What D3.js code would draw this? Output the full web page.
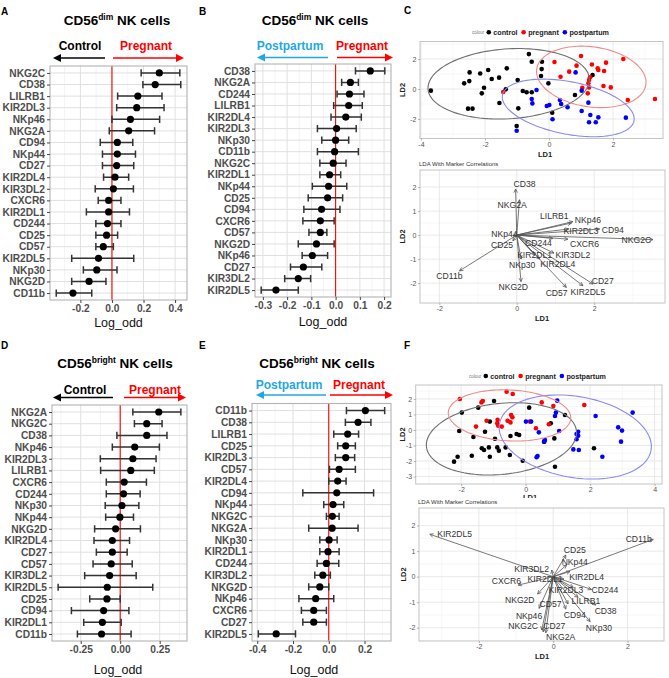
<!DOCTYPE html>
<html><head><meta charset="utf-8">
<script src="https://cdn.jsdelivr.net/npm/d3@7"></script>
<style>body{margin:0;background:#fff}svg{display:block}text{font-family:'Liberation Sans',Arial,sans-serif}</style>
</head><body><svg id="c" width="669" height="678"></svg>
<script>
// ---------------- DATA ----------------
// Panel A: CD56dim, Control vs Pregnant
const catsA = ["NKG2C","CD38","LILRB1","KIR2DL3","NKp46","NKG2A","CD94","NKp44","CD27","KIR2DL4","KIR3DL2","CXCR6","KIR2DL1","CD244","CD25","CD57","KIR2DL5","NKp30","NKG2D","CD11b"];
const ptA = [0.300,0.274,0.164,0.157,0.117,0.106,0.034,0.034,0.030,0.019,0.009,-0.021,-0.021,-0.028,-0.034,-0.055,-0.085,-0.096,-0.145,-0.247];
const loA = [0.185,0.196,0.036,0.030,0.000,-0.017,-0.074,-0.060,-0.060,-0.053,-0.106,-0.087,-0.162,-0.102,-0.102,-0.102,-0.255,-0.181,-0.255,-0.353];
const hiA = [0.430,0.436,0.317,0.330,0.302,0.270,0.132,0.149,0.138,0.106,0.136,0.057,0.111,0.057,0.036,0.009,0.138,0.032,-0.038,-0.128];
const ticksA = [-0.2,0,0.2,0.4];

// Panel B: CD56dim, Postpartum vs Pregnant
const catsB = ["CD38","NKG2A","CD244","LILRB1","KIR2DL4","KIR2DL3","NKp30","CD11b","NKG2C","KIR2DL1","NKp44","CD25","CD94","CXCR6","CD57","NKG2D","NKp46","CD27","KIR3DL2","KIR2DL5"];
const ptB = [0.143,0.061,0.057,0.054,0.042,0.004,0.000,-0.004,-0.010,-0.025,-0.029,-0.033,-0.058,-0.063,-0.063,-0.079,-0.096,-0.133,-0.154,-0.246];
const loB = [0.082,0.025,0.006,-0.008,-0.019,-0.075,-0.057,-0.075,-0.065,-0.065,-0.096,-0.113,-0.131,-0.135,-0.110,-0.154,-0.138,-0.186,-0.210,-0.307];
const hiB = [0.203,0.094,0.117,0.110,0.106,0.085,0.054,0.094,0.043,0.021,0.046,0.029,0.018,-0.006,-0.036,-0.006,-0.033,-0.057,-0.103,-0.154];
const ticksB = [-0.3,-0.2,-0.1,0,0.1,0.2];

// Panel D: CD56bright, Control vs Pregnant
const catsD = ["NKG2A","NKG2C","CD38","NKp46","KIR2DL3","LILRB1","CXCR6","CD244","NKp30","NKp44","NKG2D","KIR2DL4","CD27","CD57","KIR3DL2","KIR2DL5","CD25","CD94","KIR2DL1","CD11b"];
const ptD = [0.244,0.168,0.168,0.092,0.080,0.067,0.025,0.021,0.011,-0.002,-0.029,-0.050,-0.050,-0.057,-0.067,-0.082,-0.084,-0.105,-0.113,-0.118];
const loD = [0.080,0.090,-0.021,-0.050,-0.126,-0.124,-0.088,-0.088,-0.095,-0.092,-0.162,-0.166,-0.151,-0.172,-0.225,-0.393,-0.193,-0.309,-0.231,-0.271];
const hiD = [0.384,0.265,0.296,0.248,0.227,0.216,0.166,0.126,0.118,0.084,0.128,0.059,0.044,0.076,0.101,0.206,0.000,0.055,0.006,0.069];
const ticksD = [-0.25,0,0.25];

// Panel E: CD56bright, Postpartum vs Pregnant
const catsE = ["CD11b","CD38","LILRB1","CD25","KIR2DL3","CD57","KIR2DL4","CD94","NKp44","NKG2C","NKG2A","NKp30","KIR2DL1","CD244","KIR3DL2","NKG2D","NKp46","CXCR6","CD27","KIR2DL5"];
const ptE = [0.205,0.164,0.106,0.095,0.095,0.058,0.050,0.045,0.024,0.020,0.019,0.002,-0.004,-0.013,-0.033,-0.050,-0.073,-0.084,-0.084,-0.294];
const loE = [0.099,0.093,0.028,0.050,0.037,0.004,0.000,-0.145,-0.028,-0.013,-0.112,-0.050,-0.050,-0.065,-0.078,-0.112,-0.167,-0.153,-0.145,-0.394];
const hiE = [0.313,0.236,0.167,0.149,0.145,0.149,0.097,0.251,0.084,0.058,0.164,0.047,0.058,0.056,0.009,0.000,0.028,-0.013,-0.013,-0.186];
const ticksE = [-0.4,-0.2,0,0.2];

// Panel C (top): LDA scores [LD1, LD2]
const ldaC_control = [[-0.63,2.33],[-0.54,1.82],[-0.22,1.82],[-0.23,1.33],[-0.25,0.87],[-2.48,1.11],[-2.15,1.04],[-1.90,1.27],[-1.32,1.38],[-1.79,0.67],[-1.56,0.76],[-2.49,0.53],[-2.65,0.38],[-0.98,0.60],[-0.02,0.38],[-2.03,0.09],[-2.10,-0.29],[-1.35,-0.02],[-0.82,-0.13],[-0.70,-0.22],[-0.54,-0.22],[-1.55,-0.93],[-0.96,-1.29],[-2.53,-1.31],[-2.39,-1.31],[0.81,-0.40],[0.10,-1.58],[1.36,0.93],[-1.01,-2.47],[-3.69,-0.11]];
const ldaC_pregnant = [[0.17,1.80],[1.00,2.20],[1.34,1.64],[1.78,1.76],[2.32,2.00],[0.86,1.56],[0.63,1.16],[0.36,0.82],[1.52,1.38],[1.54,1.27],[1.72,1.20],[1.28,0.78],[1.25,0.60],[1.23,0.38],[1.25,0.11],[1.04,0.09],[1.21,-0.29],[1.70,0.20],[1.93,0.11],[2.46,-0.73],[3.31,-0.67],[-1.43,-0.20]];
const ldaC_postpartum = [[0.83,1.11],[1.02,-0.11],[-0.39,-0.07],[-0.54,-0.67],[-0.52,-0.96],[-0.07,-1.13],[0.01,-1.07],[0.34,-0.73],[0.38,-1.00],[0.58,-1.22],[1.23,-0.91],[1.02,-1.47],[1.29,-1.73],[1.54,-1.89],[1.46,-2.22],[1.25,-2.22],[2.40,-1.91],[0.11,-2.02],[-1.01,-2.78]];
// ellipses: [centre LD1, centre LD2, half-extent LD1, half-extent LD2, phase]
const ellC_control = [-1.26,0.35,2.52,2.35,1.45];
const ellC_pregnant = [1.32,0.81,1.71,2.05,1.75];
const ellC_postpartum = [0.60,-1.26,2.06,1.92,1.96];

// Panel C (bottom): marker correlations
const bipC_markers = ["CD38","NKG2A","LILRB1","NKp46","KIR2DL3","CD94","NKG2C","CXCR6","CD244","KIR3DL2","KIR2DL1","KIR2DL4","NKp30","NKG2D","CD57","KIR2DL5","CD27","CD11b","CD25","NKp44"];
const bipC_tipX = [-0.03,0.07,1.41,1.45,1.34,2.14,3.52,1.32,0.93,0.96,0.46,0.59,0.11,0.11,1.28,1.71,1.97,-1.48,-0.10,-0.10];
const bipC_tipY = [1.92,1.47,0.50,0.56,0.25,0.25,-0.19,-0.17,-0.14,-0.75,-0.83,-1.00,-1.00,-1.94,-2.18,-2.11,-2.04,-1.49,-0.24,-0.03];
const bipC_labX = [0.20,-0.12,0.97,1.84,1.66,2.48,3.09,1.75,0.56,1.45,0.46,1.06,0.14,-0.09,1.03,1.84,2.22,-1.74,-0.38,-0.32];
const bipC_labY = [2.13,1.25,0.78,0.63,0.18,0.21,-0.19,-0.39,-0.35,-0.82,-0.82,-1.21,-1.24,-2.18,-2.42,-2.36,-1.93,-1.72,-0.40,0.04];

// Panel F (top): LDA scores
const ldaF_control = [[-0.98,1.87],[-1.47,1.44],[-1.98,1.12],[0.11,1.44],[1.22,0.97],[-1.11,0.54],[0.78,0.43],[-2.06,-0.06],[-1.62,-0.45],[-1.26,-0.11],[-0.47,-0.39],[-0.28,-0.26],[-0.20,-0.32],[-0.95,-0.56],[-1.36,-1.18],[-1.29,-1.29],[-1.14,-1.12],[-0.88,-1.12],[-0.83,-1.33],[-1.11,-1.72],[-1.67,-1.66],[-2.11,-1.72],[-2.22,-2.04],[-0.49,-1.61],[-0.62,-1.12],[-0.09,-1.98],[0.57,-0.75],[0.89,-0.54],[0.91,-2.37],[2.12,-1.18]];
const ldaF_pregnant = [[-0.59,2.47],[-0.40,2.32],[-2.04,2.00],[-1.33,1.87],[-1.37,1.78],[1.82,1.61],[0.50,1.78],[0.86,1.55],[-0.45,0.97],[-0.41,0.82],[-0.56,0.60],[-0.47,0.49],[-1.21,0.60],[-0.87,0.65],[-0.88,0.43],[-0.85,0.28],[-0.74,0.22],[-1.54,0.22],[0.32,0.11],[0.72,0.37],[0.13,0.54]];
const ldaF_postpartum = [[0.98,1.89],[0.94,1.12],[0.91,0.90],[0.01,0.54],[0.17,0.54],[0.41,-0.15],[1.04,-0.06],[1.63,-0.11],[1.58,-0.26],[1.63,-0.37],[1.58,-0.60],[1.65,-1.29],[1.48,-1.25],[0.60,-0.65],[0.58,-0.75],[0.37,-1.68],[0.34,-1.76],[2.38,-1.72],[2.87,0.17],[2.99,-0.04],[2.96,-0.75],[2.17,0.90],[3.32,1.12]];
const ellF_control = [-0.75,-0.57,2.33,2.33,1.40];
const ellF_pregnant = [-0.50,0.94,1.90,1.65,1.67];
const ellF_postpartum = [1.54,-0.45,2.36,2.71,1.80];

// Panel F (bottom): marker correlations
const bipF_markers = ["KIR2DL5","CD11b","CD25","NKp44","KIR3DL2","KIR2DL4","CXCR6","KIR2DL1","KIR2DL3","CD244","LILRB1","CD38","NKp30","CD94","CD57","NKG2D","NKp46","NKG2C","CD27","NKG2A"];
const bipF_tipX = [-3.32,2.69,0.34,0.36,-0.04,0.45,-0.94,0.29,0.54,1.03,0.67,1.15,0.99,0.34,0.40,-0.42,-0.38,-0.31,-0.27,-0.20];
const bipF_tipY = [1.66,1.46,0.85,0.46,0.26,0.20,-0.33,-0.10,-0.42,-0.50,-0.81,-1.11,-1.76,-1.27,-1.07,-0.68,-1.24,-2.09,-2.16,-2.20];
const bipF_labX = [-2.65,2.30,0.58,0.58,-0.58,0.90,-1.26,-0.22,0.34,1.39,0.88,1.41,1.23,0.58,-0.07,-0.90,-0.65,-0.81,0.03,0.20];
const bipF_labY = [1.69,1.46,1.05,0.59,0.29,0.00,-0.16,-0.10,-0.52,-0.52,-0.94,-1.35,-2.00,-1.50,-1.08,-0.92,-1.54,-1.93,-1.93,-2.35];

const groupNames = ["control","pregnant","postpartum"];

// ---------------- DRAWING ----------------
const svg = d3.select('#c');
const RED = '#ff0000', LBLUE = '#1fa8e6';
const groupColors = ['#000000','#ff0000','#0000ff'];
const ellColors = ['#6e6e6e','#f08a8a','#8a8af0'];

const fmtN = n => d => (d < 0 ? '-' : '') + Math.abs(d).toFixed(n);

function hArrow(g, x1, x2, y, color) {
  const dir = Math.sign(x2 - x1), hl = 8, hw = 4;
  g.append('line').attr('x1', x1).attr('x2', x2 - dir * hl).attr('y1', y).attr('y2', y)
    .attr('stroke', color).attr('stroke-width', 1.6);
  g.append('path').attr('d', `M${x2},${y}L${x2 - dir * hl},${y - hw}L${x2 - dir * hl},${y + hw}Z`).attr('fill', color);
}

function forest(cfg) {
  const g = svg.append('g');
  const mn = d3.min(cfg.lo), mx = d3.max(cfg.hi), pad = (mx - mn) * 0.05;
  const x = d3.scaleLinear().domain([mn - pad, mx + pad]).range([cfg.l, cfg.r]);
  const y = d3.scalePoint().domain(cfg.cats).range([cfg.t, cfg.b]).padding(0.6);
  const [d0, d1] = x.domain();
  const step = cfg.ticks[1] - cfg.ticks[0];
  const minors = [cfg.ticks[0] - step / 2, ...cfg.ticks.map(t => t + step / 2)].filter(v => v > d0 && v < d1);
  g.append('rect').attr('x', cfg.l).attr('y', cfg.t).attr('width', cfg.r - cfg.l).attr('height', cfg.b - cfg.t).attr('fill', '#fff');
  g.selectAll('.mn').data(minors).join('line').attr('x1', d => x(d)).attr('x2', d => x(d))
    .attr('y1', cfg.t).attr('y2', cfg.b).attr('stroke', '#ececec').attr('stroke-width', 0.6);
  g.selectAll('.mj').data(cfg.ticks).join('line').attr('x1', d => x(d)).attr('x2', d => x(d))
    .attr('y1', cfg.t).attr('y2', cfg.b).attr('stroke', '#e0e0e0').attr('stroke-width', 1);
  g.selectAll('.hz').data(cfg.cats).join('line').attr('x1', cfg.l).attr('x2', cfg.r)
    .attr('y1', d => y(d)).attr('y2', d => y(d)).attr('stroke', '#e0e0e0').attr('stroke-width', 1);
  g.append('line').attr('x1', x(0)).attr('x2', x(0)).attr('y1', cfg.t).attr('y2', cfg.b)
    .attr('stroke', RED).attr('stroke-width', 1.1);
  const idx = d3.range(cfg.cats.length);
  g.selectAll('.eb').data(idx).join('path').attr('d', i => {
    const yy = y(cfg.cats[i]), a = x(cfg.lo[i]), b = x(cfg.hi[i]);
    return `M${a},${yy}H${b}M${a},${yy - 3.6}V${yy + 3.6}M${b},${yy - 3.6}V${yy + 3.6}`;
  }).attr('stroke', '#333').attr('stroke-width', 1.5).attr('fill', 'none');
  g.selectAll('.pt').data(idx).join('circle').attr('cx', i => x(cfg.pt[i])).attr('cy', i => y(cfg.cats[i]))
    .attr('r', 3.6).attr('fill', '#000');
  g.append('rect').attr('x', cfg.l).attr('y', cfg.t).attr('width', cfg.r - cfg.l).attr('height', cfg.b - cfg.t)
    .attr('fill', 'none').attr('stroke', '#b3b3b3').attr('stroke-width', 1.1);
  const ax = g.append('g').attr('transform', `translate(0,${cfg.b})`)
    .call(d3.axisBottom(x).tickValues(cfg.ticks).tickFormat(cfg.fmt).tickSize(3).tickPadding(2));
  const ay = g.append('g').attr('transform', `translate(${cfg.l},0)`)
    .call(d3.axisLeft(y).tickSize(3).tickPadding(2));
  [ax, ay].forEach(a => {
    a.select('.domain').remove();
    a.selectAll('line').attr('stroke', '#444');
    a.selectAll('text').attr('font-family', "'Liberation Sans',Arial,sans-serif").attr('font-weight', 'bold')
      .attr('font-size', 10.2).attr('fill', '#4d4d4d');
  });
  // title
  const t = g.append('text').attr('x', cfg.titleX).attr('y', cfg.titleY).attr('text-anchor', 'middle')
    .attr('font-weight', 'bold').attr('font-size', 13.5).attr('fill', '#000');
  t.append('tspan').text('CD56');
  t.append('tspan').text(cfg.sup).attr('font-size', 8.5).attr('dy', -5);
  t.append('tspan').text(' NK cells').attr('dy', 5);
  // direction arrows
  hArrow(g, cfg.la[1], cfg.la[0], cfg.ay, cfg.lcol);
  hArrow(g, cfg.ra[0], cfg.ra[1], cfg.ay, RED);
  g.append('text').attr('x', cfg.ltx).attr('y', cfg.ty).attr('text-anchor', 'middle')
    .attr('font-weight', 'bold').attr('font-size', 12).attr('fill', cfg.lcol).text(cfg.ltext);
  g.append('text').attr('x', cfg.rtx).attr('y', cfg.ty).attr('text-anchor', 'middle')
    .attr('font-weight', 'bold').attr('font-size', 12).attr('fill', RED).text('Pregnant');
  g.append('text').attr('x', cfg.xlx).attr('y', cfg.xly).attr('text-anchor', 'middle')
    .attr('font-size', 12.5).attr('fill', '#111').text('Log_odd');
  g.append('text').attr('x', cfg.letX).attr('y', cfg.letY).attr('font-weight', 'bold').attr('font-size', 10).text(cfg.letter);
}

function gridPanel(g, x, y, cfg) {
  g.append('rect').attr('x', cfg.l).attr('y', cfg.t).attr('width', cfg.r - cfg.l).attr('height', cfg.b - cfg.t).attr('fill', '#fff');
  g.selectAll('.xm').data(cfg.xminor).join('line').attr('x1', d => x(d)).attr('x2', d => x(d)).attr('y1', cfg.t).attr('y2', cfg.b)
    .attr('stroke', '#efefef').attr('stroke-width', 0.5);
  g.selectAll('.ym').data(cfg.yminor).join('line').attr('y1', d => y(d)).attr('y2', d => y(d)).attr('x1', cfg.l).attr('x2', cfg.r)
    .attr('stroke', '#efefef').attr('stroke-width', 0.5);
  g.selectAll('.xj').data(cfg.xticks).join('line').attr('x1', d => x(d)).attr('x2', d => x(d)).attr('y1', cfg.t).attr('y2', cfg.b)
    .attr('stroke', '#e3e3e3').attr('stroke-width', 0.8);
  g.selectAll('.yj').data(cfg.yticks).join('line').attr('y1', d => y(d)).attr('y2', d => y(d)).attr('x1', cfg.l).attr('x2', cfg.r)
    .attr('stroke', '#e3e3e3').attr('stroke-width', 0.8);
}

function ldaAxes(g, x, y, cfg) {
  g.append('rect').attr('x', cfg.l).attr('y', cfg.t).attr('width', cfg.r - cfg.l).attr('height', cfg.b - cfg.t)
    .attr('fill', 'none').attr('stroke', '#c4c4c4').attr('stroke-width', 1);
  const ax = g.append('g').attr('transform', `translate(0,${cfg.b})`)
    .call(d3.axisBottom(x).tickValues(cfg.xticks).tickFormat(d => String(d)).tickSize(2).tickPadding(1.5));
  const ay = g.append('g').attr('transform', `translate(${cfg.l},0)`)
    .call(d3.axisLeft(y).tickValues(cfg.yticks).tickFormat(d => String(d)).tickSize(2).tickPadding(1.5));
  [ax, ay].forEach(a => {
    a.select('.domain').remove();
    a.selectAll('line').attr('stroke', '#888').attr('stroke-width', 0.6);
    a.selectAll('text').attr('font-size', 7).attr('fill', '#555');
  });
  g.append('text').attr('x', cfg.ld1x).attr('y', cfg.ld1y).attr('text-anchor', 'middle').attr('dy', '0.35em')
    .attr('font-weight', 'bold').attr('font-size', 7.5).attr('fill', '#222').text('LD1');
  g.append('text').attr('transform', `translate(${cfg.ld2x},${(cfg.t + cfg.b) / 2}) rotate(-90)`).attr('text-anchor', 'middle')
    .attr('dy', '0.35em').attr('font-weight', 'bold').attr('font-size', 7.5).attr('fill', '#222').text('LD2');
}

function ldaScatter(cfg) {
  const g = svg.append('g');
  const x = d3.scaleLinear().domain(cfg.xd).range([cfg.l, cfg.r]);
  const y = d3.scaleLinear().domain(cfg.yd).range([cfg.b, cfg.t]);
  gridPanel(g, x, y, cfg);
  cfg.groups.forEach((pts, k) => {
    g.selectAll(null).data(pts).join('circle').attr('cx', d => x(d[0])).attr('cy', d => y(d[1]))
      .attr('r', 2.3).attr('fill', groupColors[k]);
  });
  const ts = d3.range(0, 2 * Math.PI + 0.001, Math.PI / 60);
  cfg.ells.forEach((e, k) => {
    const line = d3.line().x(t => x(e[0] + e[2] * Math.cos(t))).y(t => y(e[1] + e[3] * Math.cos(t - e[4])));
    g.append('path').attr('d', line(ts)).attr('fill', 'none').attr('stroke', ellColors[k]).attr('stroke-width', 1.1);
  });
  ldaAxes(g, x, y, cfg);
  // legend
  const lg = g.append('g');
  let cx = cfg.legX;
  const ct = lg.append('text').attr('x', cx).attr('y', cfg.legY).attr('dy', '0.35em').attr('font-size', 4.5).attr('fill', '#777').text('colour');
  cx += ct.node().getComputedTextLength() + 4.5;
  groupNames.forEach((n, k) => {
    lg.append('circle').attr('cx', cx).attr('cy', cfg.legY).attr('r', 2.3).attr('fill', groupColors[k]);
    const tx = lg.append('text').attr('x', cx + 4.5).attr('y', cfg.legY).attr('dy', '0.35em')
      .attr('font-weight', 'bold').attr('font-size', 7.2).attr('fill', '#222').text(n);
    cx += 4.5 + tx.node().getComputedTextLength() + 6;
  });
  g.append('text').attr('x', cfg.letX).attr('y', cfg.letY).attr('font-weight', 'bold').attr('font-size', 10).text(cfg.letter);
}

function biplot(cfg) {
  const g = svg.append('g');
  const x = d3.scaleLinear().domain(cfg.xd).range([cfg.l, cfg.r]);
  const y = d3.scaleLinear().domain(cfg.yd).range([cfg.b, cfg.t]);
  gridPanel(g, x, y, cfg);
  const idx = d3.range(cfg.markers.length);
  const x0 = x(0), y0 = y(0);
  g.selectAll('.ar').data(idx).join('path').attr('d', i => {
    const x1 = x(cfg.tx[i]), y1 = y(cfg.ty[i]);
    const a = Math.atan2(y1 - y0, x1 - x0), h = 4, s = 0.45;
    return `M${x0},${y0}L${x1},${y1}M${x1 - h * Math.cos(a - s)},${y1 - h * Math.sin(a - s)}L${x1},${y1}L${x1 - h * Math.cos(a + s)},${y1 - h * Math.sin(a + s)}`;
  }).attr('fill', 'none').attr('stroke', '#555').attr('stroke-width', 0.8);
  g.selectAll('.lb').data(idx).join('text').attr('x', i => x(cfg.lx[i])).attr('y', i => y(cfg.ly[i]))
    .attr('text-anchor', 'middle').attr('dy', '0.35em').attr('font-size', 8.6).attr('fill', '#333').text(i => cfg.markers[i]);
  ldaAxes(g, x, y, cfg);
  g.append('text').attr('x', cfg.l - 1).attr('y', cfg.titleY).attr('dy', '0.35em').attr('font-size', 6).attr('fill', '#333')
    .text('LDA With Marker Correlations');
}

const halves = (a, b) => d3.range(a, b + 0.001, 1).map(v => v + 0.5).filter(v => v < b);

forest({cats: catsA, pt: ptA, lo: loA, hi: hiA, ticks: ticksA, fmt: fmtN(1), l: 50, r: 187, t: 66, b: 300,
  sup: 'dim', titleX: 117, titleY: 25, ay: 58, la: [53, 105], ra: [113, 184], lcol: '#000', ltext: 'Control',
  ltx: 80, rtx: 146, ty: 50, xlx: 118.5, xly: 327, letter: 'A', letX: 1, letY: 15});
forest({cats: catsB, pt: ptB, lo: loB, hi: hiB, ticks: ticksB, fmt: fmtN(1), l: 255, r: 391, t: 64, b: 297,
  sup: 'dim', titleX: 315, titleY: 25, ay: 57.5, la: [257, 328], ra: [337, 393], lcol: LBLUE, ltext: 'Postpartum',
  ltx: 290, rtx: 362, ty: 50, xlx: 323, xly: 326, letter: 'B', letX: 199, letY: 15});
forest({cats: catsD, pt: ptD, lo: loD, hi: hiD, ticks: ticksD, fmt: fmtN(2), l: 52, r: 187, t: 405, b: 641,
  sup: 'bright', titleX: 115, titleY: 368, ay: 397.5, la: [53, 113], ra: [124, 186], lcol: '#000', ltext: 'Control',
  ltx: 85, rtx: 155, ty: 393.5, xlx: 118, xly: 674, letter: 'D', letX: 1, letY: 349});
forest({cats: catsE, pt: ptE, lo: loE, hi: hiE, ticks: ticksE, fmt: fmtN(1), l: 252, r: 391, t: 403.5, b: 641,
  sup: 'bright', titleX: 317, titleY: 368, ay: 395, la: [256, 326], ra: [330, 393], lcol: LBLUE, ltext: 'Postpartum',
  ltx: 289, rtx: 359, ty: 389, xlx: 314, xly: 674, letter: 'E', letX: 199, letY: 349});

ldaScatter({groups: [ldaC_control, ldaC_pregnant, ldaC_postpartum], ells: [ellC_control, ellC_pregnant, ellC_postpartum],
  l: 420, r: 663, t: 41.5, b: 138.5, xd: [-4.03, 3.56], yd: [-3.3, 3.17],
  xticks: [-4, -2, 0, 2], yticks: [-2, 0, 2], xminor: [-3, -1, 1, 3], yminor: [-3, -1, 1, 3],
  ld1x: 545, ld1y: 154, ld2x: 402, legX: 472, legY: 32.3, letter: 'C', letX: 404, letY: 14});
biplot({markers: bipC_markers, tx: bipC_tipX, ty: bipC_tipY, lx: bipC_labX, ly: bipC_labY,
  l: 420, r: 665, t: 170, b: 303, xd: [-2.5, 3.83], yd: [-2.83, 2.71],
  xticks: [-2, 0, 2], yticks: [-2, -1, 0, 1, 2], xminor: [-1, 1, 3], yminor: halves(-3, 2.71).filter(v => v > -2.83),
  ld1x: 542, ld1y: 318, ld2x: 402, titleY: 164});

ldaScatter({groups: [ldaF_control, ldaF_pregnant, ldaF_postpartum], ells: [ellF_control, ellF_pregnant, ellF_postpartum],
  l: 415.7, r: 662, t: 385, b: 484, xd: [-3.41, 4.23], yd: [-3.48, 2.9],
  xticks: [-2, 0, 2, 4], yticks: [-3, -2, -1, 0, 1, 2], xminor: [-3, -1, 1, 3], yminor: halves(-4, 2.9).filter(v => v > -3.48),
  ld1x: 530, ld1y: 497, ld2x: 402.7, legX: 469, legY: 376, letter: 'F', letX: 404, letY: 349});
svg.append('rect').attr('x', 400).attr('y', 498).attr('width', 269).attr('height', 10).attr('fill', '#fff');
biplot({markers: bipF_markers, tx: bipF_tipX, ty: bipF_tipY, lx: bipF_labX, ly: bipF_labY,
  l: 419, r: 664, t: 508, b: 641, xd: [-3.61, 2.98], yd: [-2.52, 2.69],
  xticks: [-2, 0, 2], yticks: [-2, -1, 0, 1, 2], xminor: [-3, -1, 1], yminor: halves(-3, 2.69).filter(v => v > -2.52),
  ld1x: 542, ld1y: 656, ld2x: 403, titleY: 502});
</script></body></html>
